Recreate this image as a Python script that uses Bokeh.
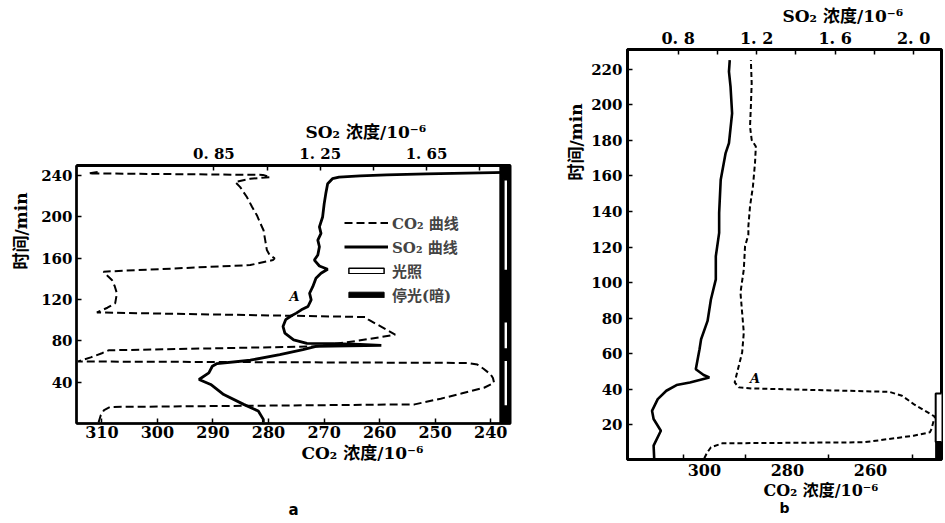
from bokeh.plotting import figure
from bokeh.models import (Range1d, LinearAxis, FixedTicker, CustomJSTickFormatter,
                          Label, Legend, LegendItem, Title)
from bokeh.layouts import row, column
from bokeh.embed import file_html
from bokeh.resources import INLINE

# ---------------- panel a data ----------------
a_co2_time = [1, 8, 13, 16, 18.5, 24, 29, 34.6, 39.4, 44, 47.4, 53, 57, 58.6, 60,
              64, 68, 70.8, 74.6, 80, 85.9, 93, 100.4, 103, 107.4, 112, 116.4, 126,
              133, 138.9, 143, 146.9, 153.3, 158.1, 159.8, 163, 167.8, 177.4, 187,
              194, 201.5, 210, 219.1, 228.7, 233.6, 236.8, 238.4, 240.5, 242, 243.5]
a_co2_conc = [310.6, 310.2, 309.6, 308.5, 253.7, 249, 245.3, 241.2, 239.4, 239.6, 240,
              241.3, 242.4, 244.2, 314.3, 312, 310, 308.8, 271.4, 264, 257.2, 259.5,
              262, 262.5, 310.9, 309, 307.6, 307.3, 307.7, 308.2, 309, 309.7, 283.3,
              279.2, 278.9, 279.8, 280.3, 280.6, 280.9, 281.5, 282.1, 283, 283.9,
              285.1, 286, 283.3, 279.7, 281, 312.4, 310.5]
a_so2_time = [1, 4, 12, 18.5, 28, 37.8, 42.6, 49, 55.4, 58, 61.2, 66.6, 71.5, 74.6,
              75.5, 76.5, 77.2, 77.6, 81, 87.5, 93.9, 100.4, 104, 106.8, 110, 113.2,
              119.6, 126, 132.4, 140.5, 145.3, 149.2, 152.4, 158.1, 163, 171, 177.4,
              183.9, 190.2, 199.8, 212.7, 222.4, 232, 236.8, 238.4, 239.5, 240.5,
              241.5, 243]
a_so2_conc = [1.036, 1.036, 1.017, 0.962, 0.887, 0.838, 0.794, 0.831, 0.844, 0.862,
              0.987, 1.098, 1.185, 1.234, 1.48, 1.40, 1.30, 1.20, 1.15, 1.117, 1.11,
              1.12, 1.14, 1.16, 1.179, 1.204, 1.216, 1.21, 1.222, 1.234, 1.253, 1.278,
              1.247, 1.228, 1.241, 1.247, 1.241, 1.253, 1.247, 1.259, 1.265, 1.271,
              1.278, 1.296, 1.321, 1.40, 1.50, 1.65, 1.95]
a_light_start = [16.9, 72.1, 147.9]
a_light_end = [61.2, 98.4, 235.8]
a_dark_start = [0]
a_dark_end = [249.6]
a_co2_ticks = [310, 300, 290, 280, 270, 260, 250, 240]
a_so2_ticks = [0.85, 1.25, 1.65]
a_so2_minor = [1.05, 1.45, 1.85]
a_time_ticks = [40, 80, 120, 160, 200, 240]

# ---------------- panel b data ----------------
b_co2_time = [1.1, 4, 7.3, 9.5, 10.1, 13.8, 15.7, 17.6, 21.3, 24.5, 31.6, 36.3, 38.5,
              40.4, 41, 43.8, 49.4, 60.6, 71.8, 83.1, 94.3, 107.4, 120.4, 127, 131.7,
              142.9, 154.1, 167.3, 176.6, 180.3, 187.8, 199, 212.2, 225.2]
b_co2_conc = [300, 299.4, 298.4, 295.7, 261.5, 249.6, 245.7, 245.3, 244.9, 244.5,
              249.6, 252.4, 255.5, 288.5, 291.7, 292.7, 292.1, 290.9, 290.5, 290.9,
              291.3, 290.5, 290.2, 289.4, 289.4, 289, 288.3, 287.8, 287.6, 288.6, 289,
              288.8, 288.6, 288.8]
b_so2_time = [1.1, 8.2, 16.6, 23.2, 27.8, 34.4, 39.1, 42.3, 43.8, 46.6, 48, 51.2,
              62.5, 68.1, 78.4, 90.5, 101.8, 114.8, 128, 139.2, 157.9, 172.9, 178.5,
              195.3, 210.3, 218.7, 225.2]
b_so2_conc = [0.678, 0.675, 0.712, 0.675, 0.667, 0.696, 0.74, 0.792, 0.86, 0.959,
              0.93, 0.89, 0.909, 0.917, 0.95, 0.967, 0.992, 0.992, 1.009, 1.009,
              1.017, 1.042, 1.059, 1.075, 1.067, 1.059, 1.063]
b_dark_start = [0]
b_dark_end = [10.3]
b_light_start = [10.3]
b_light_end = [37.5]
b_co2_ticks = [300, 280, 260]
b_co2_minor = [305, 290, 270, 250]
b_so2_ticks = [0.8, 1.2, 1.6, 2.0]
b_so2_minor = [1.0, 1.4, 1.8]
b_time_ticks = [20, 40, 60, 80, 100, 120, 140, 160, 180, 200, 220]

NUM_FONT = "DejaVu Serif"
TXT_FONT = "DejaVu Serif, Noto Sans CJK SC"


def style_axis(ax, size, standoff, tick_in=5, minor_in=5):
    ax.axis_line_width = 2.5
    ax.axis_line_color = "black"
    ax.major_tick_in = tick_in
    ax.major_tick_out = 0
    ax.minor_tick_in = minor_in
    ax.minor_tick_out = 0
    ax.major_tick_line_width = 1.5
    ax.minor_tick_line_width = 1.5
    ax.major_tick_line_color = "black"
    ax.minor_tick_line_color = "black"
    ax.major_label_text_font = NUM_FONT
    ax.major_label_text_font_size = size
    ax.major_label_text_font_style = "bold"
    ax.major_label_text_color = "black"
    ax.major_label_standoff = standoff


def add_title(p, side, text, offset, standoff=0, size="17px", font=TXT_FONT):
    p.add_layout(Title(text=text, align="left", offset=offset, standoff=standoff,
                       text_font=font, text_font_size=size,
                       text_font_style="bold", text_color="black"), side)


def add_caption(p, text, standoff, size="15px"):
    # an empty axis below the axis title, carrying only the panel letter
    ax = LinearAxis(ticker=FixedTicker(ticks=[]), axis_label=text,
                    axis_label_standoff=standoff, axis_label_text_font="DejaVu Sans",
                    axis_label_text_font_size=size, axis_label_text_font_style="bold",
                    axis_label_text_color="black", axis_line_color=None,
                    major_tick_line_color=None, minor_tick_line_color=None,
                    major_label_text_font_size="0px", major_label_standoff=0,
                    major_tick_in=0, major_tick_out=0, minor_tick_in=0,
                    minor_tick_out=0)
    p.add_layout(ax, "below")


def add_mark(p, x, y, text, size="13px"):
    p.add_layout(Label(x=x, y=y, text=text, text_font=NUM_FONT,
                       text_font_size=size, text_font_style="bold italic",
                       text_color="black", text_align="center",
                       text_baseline="middle"))


# ================= panel a =================
pa = figure(width=560, height=521, output_backend="svg", toolbar_location=None,
            x_range=Range1d(314.57, 236.44), y_range=Range1d(0, 249.6),
            min_border_left=71, min_border_right=50, min_border_top=165,
            min_border_bottom=97)
pa.extra_x_ranges = {"so2": Range1d(0.333, 1.966)}
pa.xgrid.visible = False
pa.ygrid.visible = False
pa.outline_line_color = "black"
pa.outline_line_width = 2
pa.background_fill_color = "white"

pa.below[0].ticker = FixedTicker(ticks=a_co2_ticks)
style_axis(pa.below[0], "16px", 2)
pa.left[0].ticker = FixedTicker(ticks=a_time_ticks)
style_axis(pa.left[0], "15px", 4)
top_a = LinearAxis(x_range_name="so2",
                   ticker=FixedTicker(ticks=a_so2_ticks, minor_ticks=a_so2_minor),
                   formatter=CustomJSTickFormatter(code="return tick.toFixed(2).replace('.', '. ');"))
style_axis(top_a, "15px", 3)
top_a.axis_line_width = 3
pa.add_layout(top_a, "above")

# light / dark bar on the right
r_dark_a = pa.quad(left=238.35, right=236.0, bottom=a_dark_start, top=a_dark_end,
                   fill_color="black", line_color="black")
r_light_a = pa.quad(left=237.64, right=236.93, bottom=a_light_start, top=a_light_end,
                    fill_color="white", line_color="black", line_width=1.5)

r_co2_a = pa.line(a_co2_conc, a_co2_time, line_color="black", line_width=2,
                  line_dash="8 4")
r_so2_a = pa.line(a_so2_conc, a_so2_time, x_range_name="so2", line_color="black",
                  line_width=2.8)

legend = Legend(items=[LegendItem(label="CO₂ 曲线", renderers=[r_co2_a]),
                       LegendItem(label="SO₂ 曲线", renderers=[r_so2_a]),
                       LegendItem(label="光照", renderers=[r_light_a]),
                       LegendItem(label="停光(暗)", renderers=[r_dark_a])],
                location=(268, 118), padding=0, spacing=3, glyph_width=44,
                glyph_height=7, label_standoff=4, label_height=20,
                label_text_font=TXT_FONT, label_text_font_size="15px",
                label_text_font_style="bold", border_line_color=None,
                background_fill_alpha=0)
pa.add_layout(legend)

add_title(pa, "above", "SO₂ 浓度/10⁻⁶", offset=229)
add_title(pa, "below", "CO₂ 浓度/10⁻⁶", offset=225)
add_caption(pa, "a", standoff=38)
add_title(pa, "left", "时间/min", offset=154, standoff=16)
add_mark(pa, 275.3, 122.8, "A")

# ================= panel b =================
pb = figure(width=383, height=521, output_backend="svg", toolbar_location=None,
            x_range=Range1d(318.5, 242.9), y_range=Range1d(0.4, 231.2),
            min_border_left=62, min_border_right=2, min_border_top=49,
            min_border_bottom=62)
pb.extra_x_ranges = {"so2": Range1d(0.542, 2.142)}
pb.xgrid.visible = False
pb.ygrid.visible = False
pb.outline_line_color = "black"
pb.outline_line_width = 3
pb.background_fill_color = "white"

pb.below[0].ticker = FixedTicker(ticks=b_co2_ticks, minor_ticks=b_co2_minor)
style_axis(pb.below[0], "16px", 4, tick_in=0)
pb.below[0].axis_line_width = 3
pb.left[0].ticker = FixedTicker(ticks=b_time_ticks)
style_axis(pb.left[0], "15px", 5)
pb.left[0].axis_line_width = 3
top_b = LinearAxis(x_range_name="so2",
                   ticker=FixedTicker(ticks=b_so2_ticks, minor_ticks=b_so2_minor),
                   formatter=CustomJSTickFormatter(code="return tick.toFixed(1).replace('.', '. ');"))
style_axis(top_b, "16px", 2)
top_b.axis_line_width = 3
pb.add_layout(top_b, "above")

pb.quad(left=244.3, right=242.5, bottom=b_light_start, top=b_light_end,
        fill_color="white", line_color="black", line_width=2)
pb.quad(left=244.3, right=242.5, bottom=b_dark_start, top=b_dark_end,
        fill_color="black", line_color="black")

pb.line(b_co2_conc, b_co2_time, line_color="black", line_width=2, line_dash="5 3")
pb.line(b_so2_conc, b_so2_time, x_range_name="so2", line_color="black",
        line_width=2.6)

add_title(pb, "above", "SO₂ 浓度/10⁻⁶", offset=155)
add_title(pb, "below", "CO₂ 浓度/10⁻⁶", offset=136, size="16px")
add_caption(pb, "b", standoff=0, size="14px")
add_title(pb, "left", "时间/min", offset=279, standoff=6)
add_mark(pb, 287.8, 46.0, "A")

layout = row(column(pa), column(pb))
open("out.html", "w").write(file_html(layout, INLINE))
